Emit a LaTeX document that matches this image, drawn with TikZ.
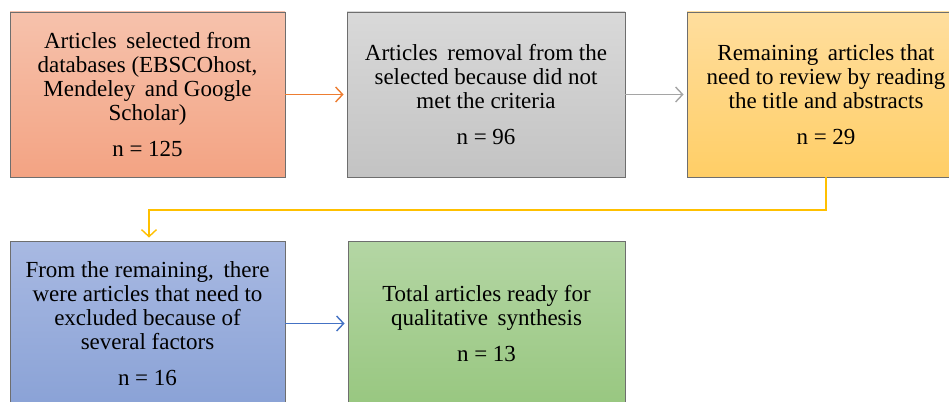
\documentclass[tikz,border=0pt]{standalone}
\usepackage{fontspec}
\IfFontExistsTF{LiberationSerif-Regular.ttf}{%
  \newfontfamily\boxfont{LiberationSerif-Regular.ttf}}{%
  \newfontfamily\boxfont{Liberation Serif}}
\usetikzlibrary{arrows.meta}
\definecolor{boxline}{HTML}{6E6E6E}
\definecolor{aOrange}{HTML}{ED7D31}
\definecolor{aGray}{HTML}{A5A5A5}
\definecolor{aGold}{HTML}{FFC000}
\definecolor{aBlue}{HTML}{4472C4}
\tikzset{
  flowbox/.style={draw=boxline, line width=0.9pt, minimum width=#1, minimum height=165pt,
    inner sep=0pt, align=center, font=\boxfont\fontsize{23}{24}\selectfont},
  conn/.style={line width=1.6pt, -{Straight Barb[length=7pt,width=15pt,line width=1.4pt]}, shorten >=3pt}
}
\begin{document}
\begin{tikzpicture}[x=1pt,y=-1pt]
\clip (0,0) rectangle (949,401);
\fill[white] (0,0) rectangle (949,401);
\node[flowbox=275pt, top color={rgb,255:red,246;green,194;blue,172}, bottom color={rgb,255:red,243;green,163;blue,131}]
  (b1) at (147.5,94.5) {Articles\, selected from\\databases (EBSCOhost,\\Mendeley\, and Google\\Scholar)\\[12pt]n = 125};
\node[flowbox=278pt, top color={rgb,255:red,217;green,217;blue,217}, bottom color={rgb,255:red,195;green,195;blue,195}]
  (b2) at (486,94.5) {Articles\, removal from the\\selected because did not\\met the criteria\\[12pt]n = 96};
\node[flowbox=278pt, top color={rgb,255:red,255;green,222;blue,158}, bottom color={rgb,255:red,255;green,206;blue,102}]
  (b3) at (826,94.5) {Remaining\, articles that\\need to review by reading\\the title and abstracts\\[12pt]n = 29};
\node[flowbox=275pt, top color={rgb,255:red,168;green,185;blue,226}, bottom color={rgb,255:red,138;green,162;blue,214}]
  (b4) at (147.5,323.5) {From the remaining,\, there\\were articles that need to\\excluded because of\\several factors\\[12pt]n = 16};
\node[flowbox=277pt, top color={rgb,255:red,180;green,214;blue,164}, bottom color={rgb,255:red,152;green,199;blue,128}]
  (b5) at (486.5,323.5) {Total articles ready for\\qualitative\, synthesis\\[12pt]n = 13};
\coordinate (t1) at (826,210);
\coordinate (t2) at (149,210);
\draw[conn, aOrange] (b1.east) -- (b2.west);
\draw[conn, aGray] (b2.east) -- (b3.west);
\draw[conn, aGold] (b3.south) -- (t1) -- (t2) -- (b4.north -| t2);
\draw[conn, aBlue] (b4.east) -- (b5.west);
\end{tikzpicture}
\end{document}
